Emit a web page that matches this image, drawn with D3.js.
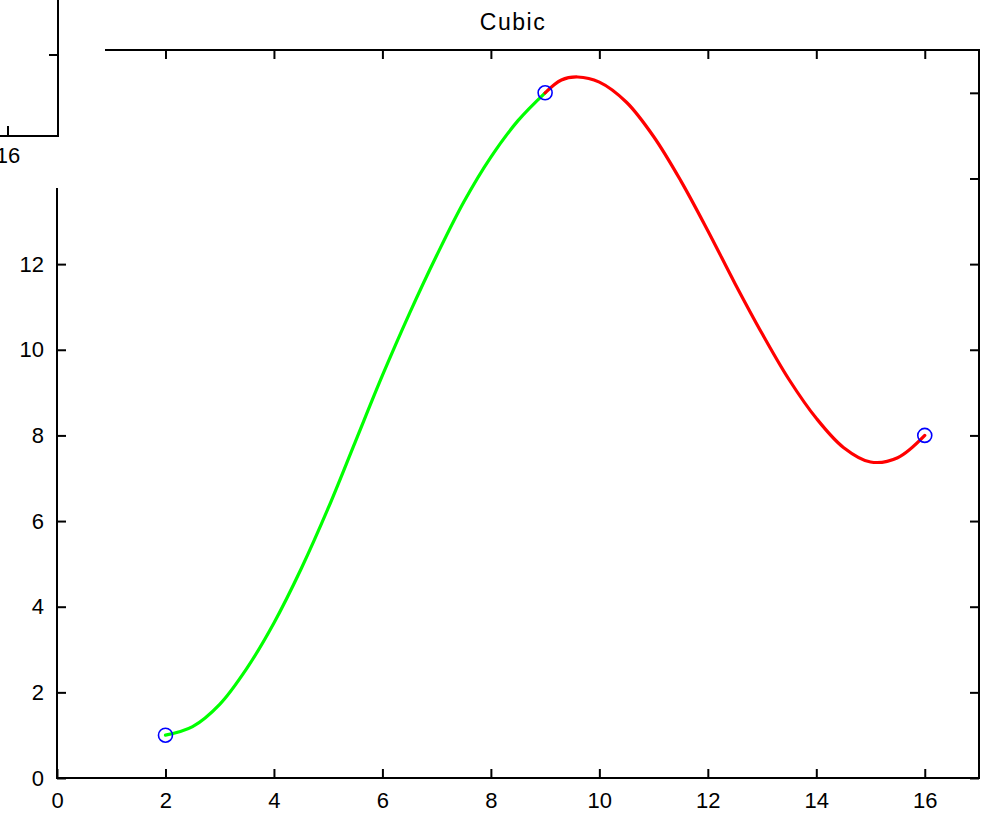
<!DOCTYPE html>
<html>
<head>
<meta charset="utf-8">
<script src="https://cdn.jsdelivr.net/npm/d3@7"></script>
<style>
  html, body { margin: 0; padding: 0; background: #fff; }
  svg { display: block; }
  text { font-family: "Liberation Sans", Arial, sans-serif; fill: #000; }
</style>
</head>
<body>
<svg id="chart" width="994" height="814"></svg>
<script>
// ---- data ----
const title = "Cubic";
const knotX = [2, 9, 16];
const knotY = [1, 16, 8];
const greenX = [2, 2.5, 3, 3.5, 4, 4.5, 5, 5.5, 6, 6.5, 7, 7.5, 8, 8.5, 9];
const greenY = [1, 1.2, 1.72, 2.56, 3.62, 4.88, 6.3, 7.85, 9.4, 10.85, 12.2, 13.45, 14.5, 15.35, 16];
const redX = [9, 9.3, 9.6, 10, 10.5, 11, 11.5, 12, 12.5, 13, 13.5, 14, 14.5, 15, 15.5, 16];
const redY = [16, 16.3, 16.37, 16.25, 15.78, 14.98, 13.95, 12.78, 11.55, 10.38, 9.3, 8.4, 7.72, 7.38, 7.48, 8];
const xTicks = [0, 2, 4, 6, 8, 10, 12, 14, 16];
const yTicks = [0, 2, 4, 6, 8, 10, 12, 14, 16];
const insetXTicks = ["16"];

// ---- layout ----
const svg = d3.select("#chart");
const L = 57, R = 979, T = 50, B = 778;
const x = d3.scaleLinear().domain([0, 17]).range([L, R]);
const y = d3.scaleLinear().domain([0, 17]).range([B, T]);
const tickLen = 9;
const fontSize = 22;

// title
svg.append("text").attr("x", (L + R) / 2 - 5).attr("y", 30)
  .attr("text-anchor", "middle").style("font-size", "23px").style("letter-spacing", "1.5px")
  .text(title);

// curves
const line = d3.line().x(d => x(d[0])).y(d => y(d[1])).curve(d3.curveCatmullRom.alpha(0.5));
svg.append("path").datum(greenX.map((v, i) => [v, greenY[i]]))
  .attr("d", line).attr("fill", "none").attr("stroke", "#00ff00").attr("stroke-width", 3.2)
  .attr("stroke-linecap", "round");
svg.append("path").datum(redX.map((v, i) => [v, redY[i]]))
  .attr("d", line).attr("fill", "none").attr("stroke", "#ff0000").attr("stroke-width", 3.2)
  .attr("stroke-linecap", "round");

// knot markers
svg.selectAll("circle.knot").data(knotX.map((v, i) => [v, knotY[i]])).enter()
  .append("circle").attr("class", "knot")
  .attr("cx", d => x(d[0])).attr("cy", d => y(d[1])).attr("r", 7)
  .attr("fill", "none").attr("stroke", "#0000ff").attr("stroke-width", 1.6);

// axes (MATLAB box style, ticks inside)
const ax = svg.append("g");
const axB = ax.append("g").attr("transform", `translate(0,${B})`)
  .call(d3.axisBottom(x).tickValues(xTicks).tickSize(-tickLen).tickFormat(d3.format("d")));
const axT = ax.append("g").attr("transform", `translate(0,${T})`)
  .call(d3.axisTop(x).tickValues(xTicks).tickSize(-tickLen).tickFormat(""));
const axL = ax.append("g").attr("transform", `translate(${L},0)`)
  .call(d3.axisLeft(y).tickValues(yTicks).tickSize(-tickLen).tickFormat(d3.format("d")));
const axR = ax.append("g").attr("transform", `translate(${R},0)`)
  .call(d3.axisRight(y).tickValues(yTicks).tickSize(-tickLen).tickFormat(""));
[axB, axT, axL, axR].forEach(g => {
  g.select(".domain").remove();
  g.selectAll(".tick line").attr("stroke", "#000").attr("stroke-width", 2);
  g.selectAll(".tick text").style("font-size", fontSize + "px")
    .style("font-family", '"Liberation Sans", Arial, sans-serif').attr("fill", "#000");
});
axB.selectAll(".tick text").attr("y", 22).attr("dy", "0.35em");
axL.selectAll(".tick text").attr("x", -13).attr("dx", 0);
// box
ax.append("rect").attr("x", L).attr("y", T).attr("width", R - L).attr("height", B - T)
  .attr("fill", "none").attr("stroke", "#000").attr("stroke-width", 2);

// neighbouring subplot overlapping top-left corner
const inset = svg.append("g");
inset.append("rect").attr("x", 0).attr("y", 0).attr("width", 105).attr("height", 188).attr("fill", "#fff");
inset.append("line").attr("x1", 58).attr("x2", 58).attr("y1", 0).attr("y2", 137).attr("stroke", "#000").attr("stroke-width", 2);
inset.append("line").attr("x1", 0).attr("x2", 59).attr("y1", 136).attr("y2", 136).attr("stroke", "#000").attr("stroke-width", 2);
inset.append("line").attr("x1", 49).attr("x2", 58).attr("y1", 55).attr("y2", 55).attr("stroke", "#000").attr("stroke-width", 2);
inset.append("line").attr("x1", 8).attr("x2", 8).attr("y1", 126).attr("y2", 136).attr("stroke", "#000").attr("stroke-width", 2);
inset.append("text").attr("x", 8).attr("y", 163).attr("text-anchor", "middle")
  .style("font-size", fontSize + "px").text(insetXTicks[0]);
</script>
</body>
</html>
